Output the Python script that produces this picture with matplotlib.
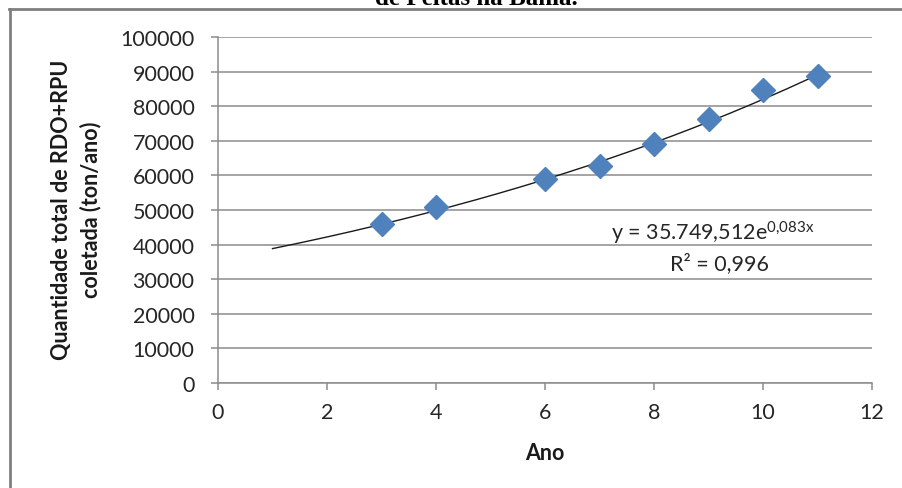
import numpy as np
import matplotlib
matplotlib.use("Agg")
import matplotlib.pyplot as plt
from matplotlib.lines import Line2D

plt.rcParams['font.family'] = ['Lato', 'DejaVu Sans']
plt.rcParams['mathtext.fontset'] = 'custom'
plt.rcParams['mathtext.rm'] = 'Lato'

# Data
anos = [3, 4, 6, 7, 8, 9, 10, 11]
quantidade = [46000, 50800, 59000, 62600, 69000, 76200, 84800, 88800]
trend_a = 35749.512
trend_b = 0.083
trend_x_range = [1, 11]
x_ticks = [0, 2, 4, 6, 8, 10, 12]
y_ticks = list(range(0, 100001, 10000))

W, H = 902, 489
fig = plt.figure(figsize=(W / 100, H / 100), dpi=100)
ax = fig.add_axes([218 / W, 1 - 384 / H, (872 - 218) / W, (384 - 38) / H])

grid_c = '#8c8c8c'
ax.set_xlim(0, 12)
ax.set_ylim(0, 100000)
ax.set_xticks(x_ticks)
ax.set_yticks(y_ticks)
ax.set_xticklabels([str(t) for t in x_ticks])
ax.set_yticklabels([str(t) for t in y_ticks])
ax.yaxis.grid(True, color=grid_c, linewidth=1.1)
ax.set_axisbelow(True)
for s in ['top', 'right']:
    ax.spines[s].set_visible(False)
for s in ['left', 'bottom']:
    ax.spines[s].set_color(grid_c)
    ax.spines[s].set_linewidth(1.1)
ax.tick_params(axis='both', colors=grid_c, labelcolor='#262626', labelsize=15.5,
               length=5, width=1.1, direction='out')
ax.tick_params(axis='x', pad=9)
ax.tick_params(axis='y', pad=12)

# trend line
xt = np.linspace(trend_x_range[0], trend_x_range[1], 200)
ax.plot(xt, trend_a * np.exp(trend_b * xt), color='#1a1a1a', linewidth=1.0, zorder=2)

# points
ax.plot(anos, quantidade, linestyle='none', marker='D', markersize=12,
        color='#4F81BD', markeredgecolor='#4F81BD', zorder=3)

ax.text(9.07, 43500, r"y = 35.749,512e$\mathregular{^{0{,}083x}}$", fontsize=15.5,
        color='#262626', ha='center', va='center')
ax.text(9.2, 34800, r"R² = 0,996", fontsize=15.5, color='#262626',
        ha='center', va='center')

ax.set_xlabel("Ano", fontsize=15.5, fontweight='bold', color='#1a1a1a', labelpad=14)
fig.text(76 / W, 1 - 210 / H, "Quantidade total de RDO+RPU\ncoletada (ton/ano)",
         rotation=90, ha='center', va='center', fontsize=15.5, fontweight='bold',
         color='#1a1a1a', linespacing=1.4)

# partial title at the top (cut off in the reference as well)
fig.text(476 / W, 1 - 5 / H, "de Feitas na Bahia.", ha='center', va='baseline',
         fontsize=18, fontweight='bold', family='Liberation Serif', color='black')

# outer border (top and left)
fig.add_artist(Line2D([9 / W, 1], [1 - 9.5 / H, 1 - 9.5 / H], color='#7f7f7f',
                      linewidth=2, transform=fig.transFigure))
fig.add_artist(Line2D([9.5 / W, 9.5 / W], [0, 1 - 9.5 / H], color='#7f7f7f',
                      linewidth=2, transform=fig.transFigure))

fig.savefig("out.png", dpi=100, facecolor='white')
